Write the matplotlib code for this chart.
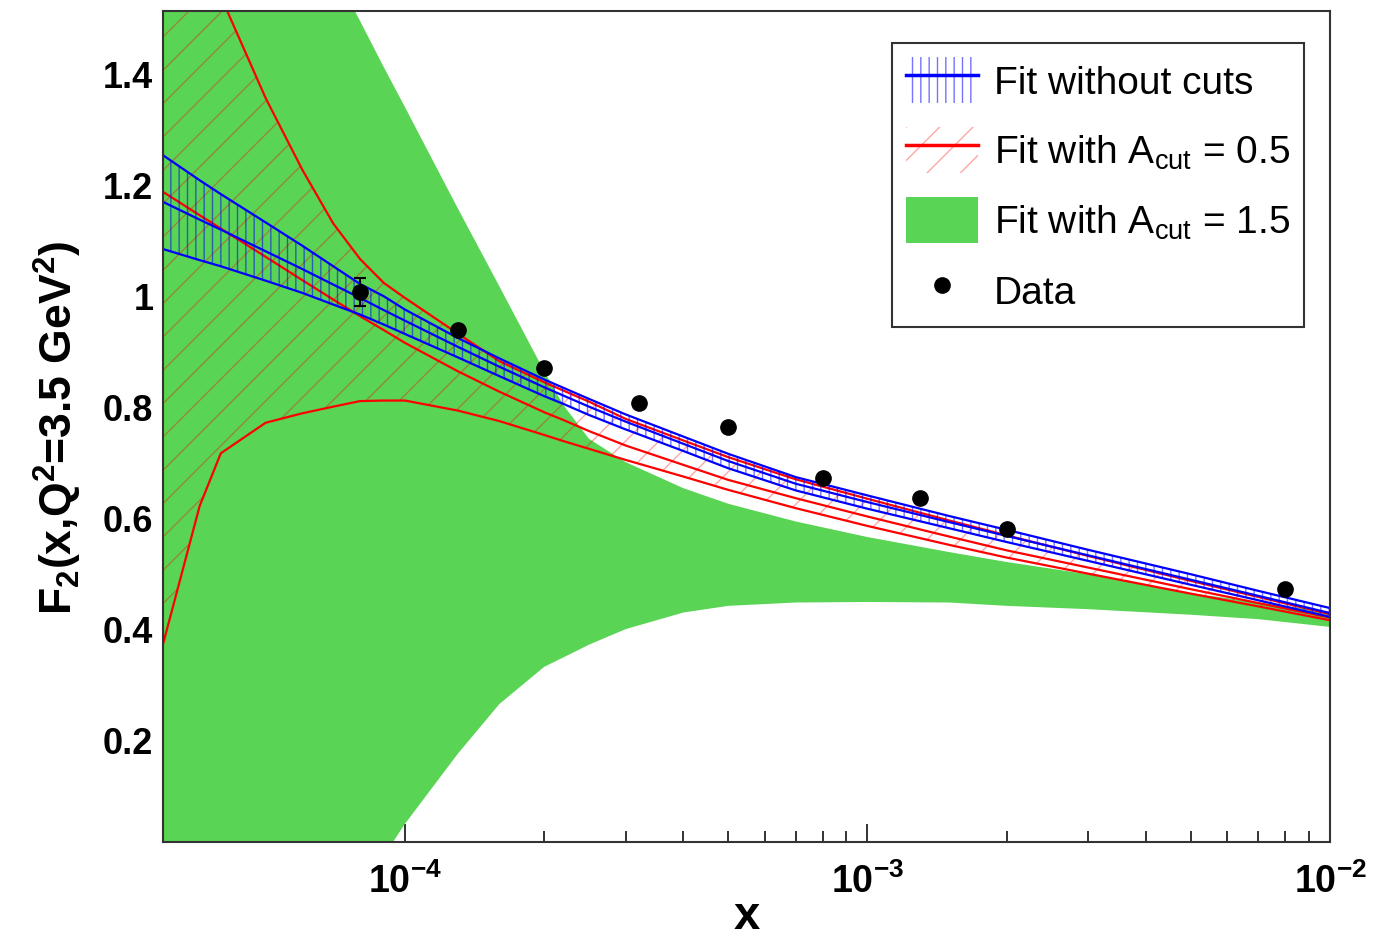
import matplotlib
matplotlib.use('Agg')
import matplotlib.pyplot as plt
from matplotlib import font_manager
from matplotlib.font_manager import FontProperties
from matplotlib.patches import Patch
from matplotlib.lines import Line2D
from matplotlib.ticker import LogLocator, NullFormatter
import numpy as np

plt.rcParams['mathtext.default'] = 'regular'

# x values the bands were read on
x_grid = [3.0e-5, 3.6e-5, 4e-5, 5e-5, 6e-5, 7e-5, 8e-5, 9e-5, 1e-4, 1.3e-4, 1.6e-4, 2e-4, 2.2e-4,
          2.5e-4, 3e-4, 4e-4, 5e-4, 7e-4, 1e-3, 1.5e-3, 2e-3, 3e-3, 5e-3, 7e-3, 1e-2]

# fit without cuts (upper, central, lower)
blue_hi = [1.252, 1.207, 1.182, 1.131, 1.089, 1.052, 1.020, 0.998, 0.974, 0.923, 0.886, 0.848, 0.833,
           0.813, 0.785, 0.745, 0.714, 0.672, 0.639, 0.602, 0.577, 0.541, 0.497, 0.467, 0.436]
blue_mid = [1.168, 1.136, 1.118, 1.079, 1.047, 1.019, 0.995, 0.973, 0.954, 0.907, 0.871, 0.834, 0.819,
            0.799, 0.772, 0.732, 0.701, 0.660, 0.627, 0.591, 0.566, 0.531, 0.487, 0.458, 0.427]
blue_lo = [1.083, 1.063, 1.052, 1.026, 1.004, 0.983, 0.965, 0.947, 0.930, 0.888, 0.854, 0.818, 0.804,
           0.784, 0.758, 0.719, 0.688, 0.648, 0.615, 0.580, 0.555, 0.521, 0.478, 0.450, 0.420]

# fit with A_cut = 0.5
red_hi = [1.80, 1.63, 1.538, 1.355, 1.226, 1.129, 1.065, 1.022, 0.995, 0.931, 0.881, 0.843, 0.828,
          0.808, 0.777, 0.738, 0.708, 0.668, 0.633, 0.594, 0.567, 0.530, 0.485, 0.456, 0.425]
red_mid = [1.186, 1.144, 1.120, 1.069, 1.027, 0.992, 0.962, 0.937, 0.914, 0.863, 0.826, 0.789, 0.775,
           0.755, 0.729, 0.694, 0.667, 0.634, 0.601, 0.565, 0.540, 0.509, 0.470, 0.445, 0.419]
red_lo = [0.371, 0.620, 0.715, 0.770, 0.787, 0.799, 0.809, 0.810, 0.810, 0.792, 0.773, 0.748, 0.737,
          0.723, 0.703, 0.673, 0.649, 0.616, 0.584, 0.550, 0.527, 0.498, 0.462, 0.439, 0.414]

# fit with A_cut = 1.5
green_hi = [2.19, 2.05, 1.98, 1.82, 1.69, 1.587, 1.494, 1.411, 1.339, 1.157, 1.016, 0.863, 0.802,
            0.741, 0.699, 0.652, 0.624, 0.592, 0.564, 0.537, 0.519, 0.497, 0.463, 0.446, 0.429]
green_lo = [-0.90, -0.75, -0.65, -0.45, -0.30, -0.18, -0.076, -0.011, 0.047, 0.173, 0.263, 0.330, 0.347,
            0.370, 0.398, 0.428, 0.440, 0.446, 0.447, 0.446, 0.440, 0.434, 0.424, 0.416, 0.402]

# data points
data_x = [8e-5, 1.3e-4, 2e-4, 3.2e-4, 5e-4, 8e-4, 1.3e-3, 2e-3, 8e-3]
data_y = [1.006, 0.937, 0.868, 0.805, 0.762, 0.670, 0.635, 0.578, 0.470]
data_err = [0.025, 0.006, 0.006, 0.005, 0.005, 0.005, 0.005, 0.004, 0.004]

y_ticks = [0.2, 0.4, 0.6, 0.8, 1.0, 1.2, 1.4]
y_ticklabels = ['0.2', '0.4', '0.6', '0.8', '1', '1.2', '1.4']
x_ticks = [1e-4, 1e-3, 1e-2]
x_ticklabels = [r'$10^{-4}$', r'$10^{-3}$', r'$10^{-2}$']
labels = ['Fit without cuts', 'Fit with A$_{cut}$ = 0.5', 'Fit with A$_{cut}$ = 1.5', 'Data']

green = '#59d454'
blue_hatch = (0.0, 0.0, 1.0, 0.55)
red_hatch = (1.0, 0.0, 0.0, 0.35)

names = {f.name for f in font_manager.fontManager.ttflist}
narrow = 'Liberation Sans Narrow' if 'Liberation Sans Narrow' in names else 'Liberation Sans'

fig = plt.figure(figsize=(13.84, 9.37), dpi=100)
ax = fig.add_axes([0.1178, 0.1003, 0.8432, 0.8869])
ax.set_xscale('log')
ax.set_xlim(3.0e-5, 1e-2)
ax.set_ylim(0.0144, 1.512)
ax.set_axisbelow(True)

ax.fill_between(x_grid, green_lo, green_hi, color=green, lw=0, zorder=1)

ax.fill_between(x_grid, red_lo, red_hi, facecolor='none', edgecolor=red_hatch, hatch='/', lw=0, zorder=2)
for yy in (red_hi, red_mid, red_lo):
    ax.plot(x_grid, yy, color='red', lw=1.6, zorder=3)

ax.fill_between(x_grid, blue_lo, blue_hi, facecolor='none', edgecolor=blue_hatch, hatch='||', lw=0, zorder=4)
for yy in (blue_hi, blue_mid, blue_lo):
    ax.plot(x_grid, yy, color='blue', lw=1.6, zorder=5)

ax.errorbar(data_x, data_y, yerr=data_err, fmt='o', color='black', ms=11, capsize=4,
            elinewidth=1.5, capthick=1.5, zorder=6)

# axes
ax.set_xticks(x_ticks)
ax.set_xticklabels(x_ticklabels, family=narrow, fontweight='bold', fontsize=27)
ax.xaxis.set_minor_locator(LogLocator(base=10, subs=np.arange(2, 10)))
ax.xaxis.set_minor_formatter(NullFormatter())
ax.set_yticks(y_ticks)
ax.set_yticklabels(y_ticklabels, family='Liberation Sans', fontweight='bold', fontsize=26)
ax.tick_params(axis='x', which='major', direction='in', length=13, width=1.4, pad=15, color='#333333')
ax.tick_params(axis='x', which='minor', direction='in', length=8, width=1.4, color='#333333')
ax.tick_params(axis='y', which='major', direction='in', length=13, width=1.4, pad=7)
for s in ax.spines.values():
    s.set_linewidth(1.5)
    s.set_color('#333333')
    s.set_zorder(10)

ax.set_xlabel('x', family=narrow, fontweight='bold', fontsize=34)
ax.xaxis.set_label_coords(0.5, -0.062)
ax.set_ylabel('F$_2$(x,Q$^2$=3.5 GeV$^2$)', family='Liberation Sans', fontweight='bold', fontsize=32)
ax.yaxis.set_label_coords(-0.068, 0.5)

# legend
h_blue = (Patch(facecolor='none', edgecolor=blue_hatch, hatch='||', lw=0), Line2D([], [], color='blue', lw=2.5))
h_red = (Patch(facecolor='none', edgecolor=red_hatch, hatch='/', lw=0), Line2D([], [], color='red', lw=2.5))
h_green = Patch(facecolor=green, lw=0)
h_data = Line2D([], [], marker='o', color='black', ls='none', ms=11)
leg = ax.legend([h_blue, h_red, h_green, h_data], labels, loc='upper left',
                bbox_to_anchor=(0.6247, 0.9615), borderaxespad=0,
                prop=FontProperties(family='Liberation Sans', size=28),
                handlelength=1.85, handleheight=1.45, handletextpad=0.42,
                labelspacing=0.62, borderpad=0.35, fancybox=False, framealpha=1,
                edgecolor='#333333')
leg.get_frame().set_linewidth(1.5)
leg.set_zorder(20)

fig.savefig('out.png', dpi=100)
